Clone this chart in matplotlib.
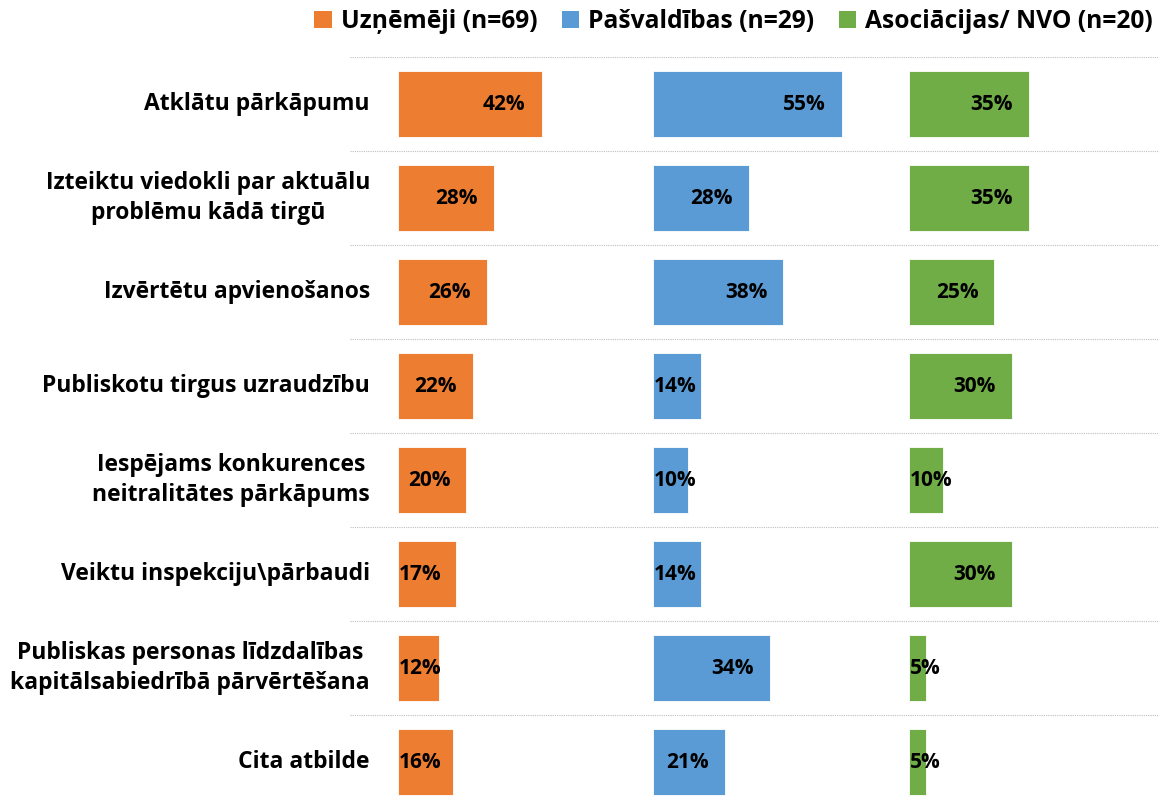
import matplotlib
matplotlib.use("Agg")
import matplotlib.pyplot as plt
from matplotlib.patches import Patch

plt.rcParams['font.family'] = ['Open Sans', 'DejaVu Sans']
plt.rcParams['font.weight'] = 'bold'

categories = [
    "Atklātu pārkāpumu",
    "Izteiktu viedokli par aktuālu\nproblēmu kādā tirgū",
    "Izvērtētu apvienošanos",
    "Publiskotu tirgus uzraudzību",
    "Iespējams konkurences\nneitralitātes pārkāpums",
    "Veiktu inspekciju\\pārbaudi",
    "Publiskas personas līdzdalības\nkapitālsabiedrībā pārvērtēšana",
    "Cita atbilde",
]
groups = ["Uzņēmēji (n=69)", "Pašvaldības (n=29)", "Asociācijas/ NVO (n=20)"]
uznemeji = [42, 28, 26, 22, 20, 17, 12, 16]
pasvaldibas = [55, 28, 38, 14, 10, 14, 34, 21]
asociacijas = [35, 35, 25, 30, 10, 30, 5, 5]
colors = ["#ED7D31", "#5B9BD5", "#70AD47"]

series = [uznemeji, pasvaldibas, asociacijas]
step = 74.7          # horizontal distance between the three panels (in %)
px = 3.42            # pixels per percent

W, H = 1159, 805
fig = plt.figure(figsize=(W / 100, H / 100), dpi=100)
left_px, top_px = 350, 57
ax = fig.add_axes([left_px / W, 0, (W - left_px) / W, (H - top_px) / H])
x0 = -(398 - left_px) / px
ax.set_xlim(x0, x0 + (W - left_px) / px)
row_px = 94
ax.set_ylim((H - top_px) / row_px, 0)
ax.axis("off")

n = len(categories)
for i in range(n):
    ax.axhline(i, color="#BFBFBF", linestyle=(0, (1, 1)), linewidth=0.8, zorder=0)

label_w = 12.5
for g, vals in enumerate(series):
    off = g * step
    ax.barh([i + 0.5 for i in range(n)], vals, left=off, height=0.71,
            color=colors[g], edgecolor="white", linewidth=0.6, zorder=2)
    for i, v in enumerate(vals):
        right = v - 4.7
        if right >= label_w:
            ax.text(off + right, i + 0.5, f"{v}%", ha="right", va="center",
                    fontsize=15, fontweight="bold", zorder=3)
        else:
            ax.text(off + 0.2, i + 0.5, f"{v}%", ha="left", va="center",
                    fontsize=15, fontweight="bold", zorder=3)

for i, c in enumerate(categories):
    ax.text(x0 + (370 - left_px) / px, i + 0.5, c, ha="right", va="center",
            multialignment="center", fontsize=16.5, fontweight="bold",
            linespacing=1.3)

handles = [Patch(facecolor=colors[g], label=groups[g]) for g in range(3)]
fig.legend(handles=handles, loc="center right",
           bbox_to_anchor=(1153 / W, 1 - 22 / H),
           ncol=3, frameon=False, prop={'size': 17.7, 'weight': 'bold'},
           handlelength=0.7, handleheight=0.7, handletextpad=0.37,
           columnspacing=1.0, borderpad=0, borderaxespad=0)

fig.savefig("out.png", dpi=100)
